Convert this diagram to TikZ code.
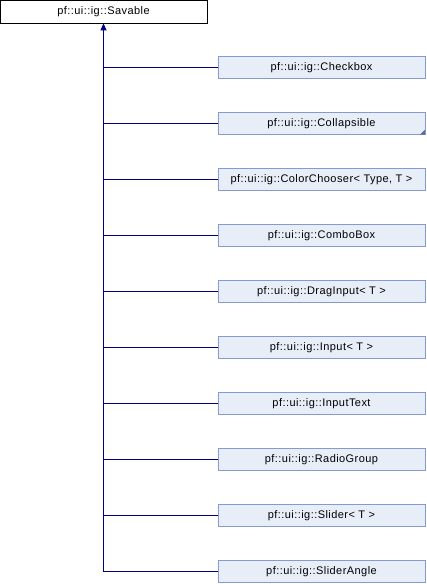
\documentclass[tikz,border=0pt]{standalone}
\usepackage{fontspec}
\setmainfont{Liberation Sans}
\newfontfamily\dgfont[LetterSpace=4]{Liberation Sans}
\usetikzlibrary{arrows.meta}
\definecolor{dgBoxFill}{RGB}{232,238,247}
\definecolor{dgBoxBorder}{RGB}{132,154,208}
\definecolor{dgEdge}{RGB}{0,0,128}
\begin{document}
\begin{tikzpicture}[x=1pt, y=-1pt,
  basebox/.style={draw=black, fill=white, line width=0.8pt, minimum width=207pt, minimum height=23pt, inner sep=0pt, font=\dgfont\fontsize{11}{13}\selectfont},
  childbox/.style={draw=dgBoxBorder, fill=dgBoxFill, line width=0.8pt, minimum width=207pt, minimum height=22pt, inner sep=0pt, font=\dgfont\fontsize{11}{13}\selectfont},
  inherit/.style={draw=dgEdge, line width=0.9pt}]
% Inheritance diagram, one pixel per unit
\def\rowgap{56}
\useasboundingbox (0,0) rectangle (426,584);
% Base class
\node[basebox] (savable) at (103.5,11.5) {pf::ui::ig::Savable};
% Derived classes
\node[childbox] (checkbox) at (321.5,67.7) {pf::ui::ig::Checkbox};
\node[childbox] (collapsible) at (321.5,67.7+\rowgap) {pf::ui::ig::Collapsible};
\node[childbox] (colorchooser) at (321.5,67.7+2*\rowgap) {pf::ui::ig::ColorChooser< Type, T >};
\node[childbox] (combobox) at (321.5,67.7+3*\rowgap) {pf::ui::ig::ComboBox};
\node[childbox] (draginput) at (321.5,67.7+4*\rowgap) {pf::ui::ig::DragInput< T >};
\node[childbox] (input) at (321.5,67.7+5*\rowgap) {pf::ui::ig::Input< T >};
\node[childbox] (inputtext) at (321.5,67.7+6*\rowgap) {pf::ui::ig::InputText};
\node[childbox] (radiogroup) at (321.5,67.7+7*\rowgap) {pf::ui::ig::RadioGroup};
\node[childbox] (slider) at (321.5,67.7+8*\rowgap) {pf::ui::ig::Slider< T >};
\node[childbox] (sliderangle) at (321.5,67.7+9*\rowgap) {pf::ui::ig::SliderAngle};
% Truncation mark on Collapsible
\fill[dgBoxBorder!70!black] ([xshift=-0.5pt,yshift=0.5pt]collapsible.south east) -- ++(0,-5) -- ++(-5,5) -- cycle;
% Trunk with arrow into the base class
\coordinate (trunkend) at (savable.south |- sliderangle.west);
\draw[inherit, -{Triangle[width=6pt,length=7pt]}] (trunkend) -- (savable.south);
% Branches
\foreach \kid in {checkbox,collapsible,colorchooser,combobox,draginput,input,inputtext,radiogroup,slider,sliderangle}
  \draw[inherit] (savable.south |- \kid.west) -- (\kid.west);
\end{tikzpicture}
\end{document}
